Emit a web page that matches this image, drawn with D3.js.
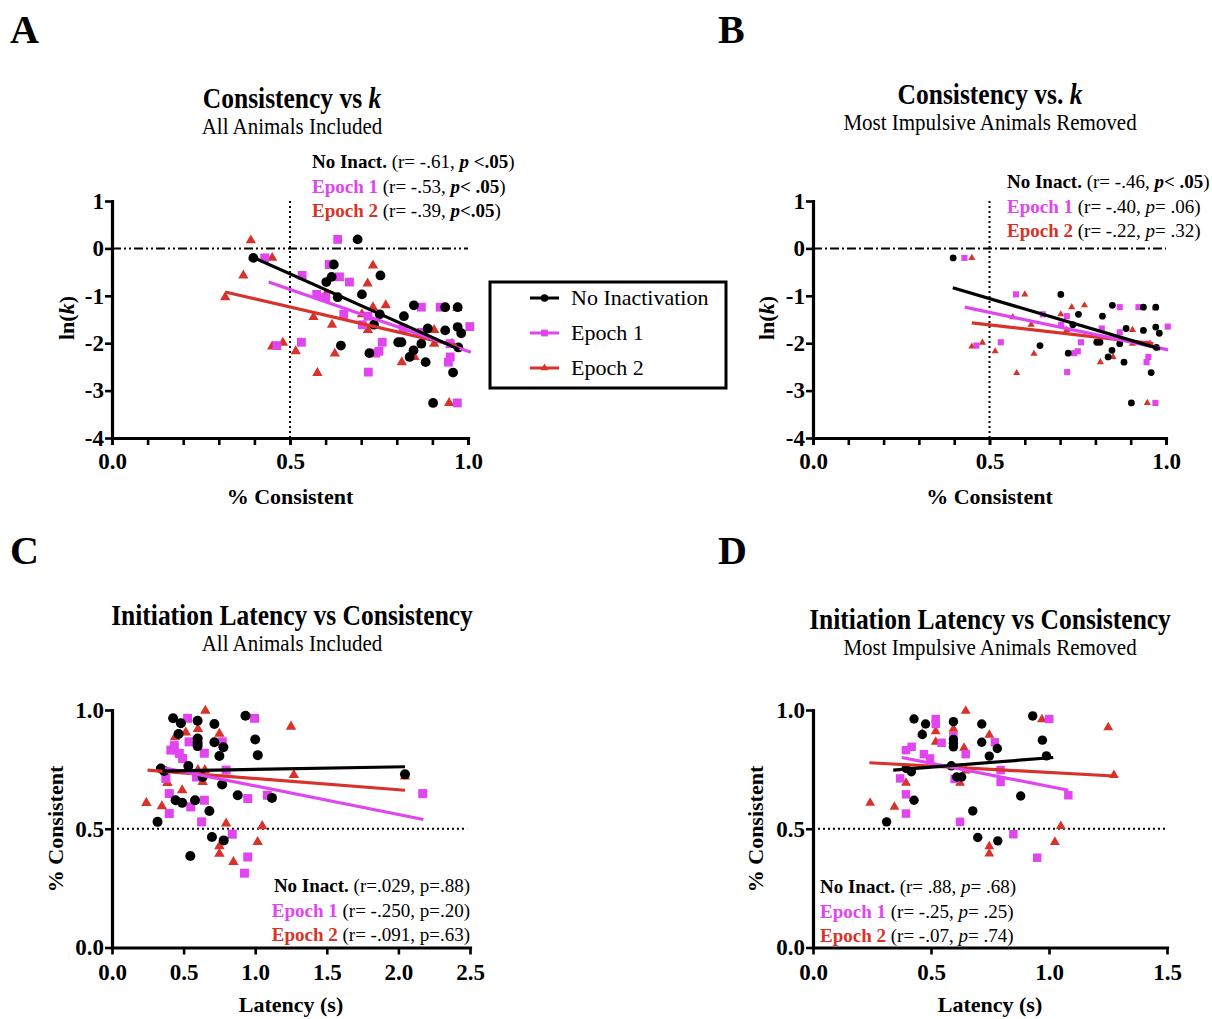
<!DOCTYPE html>
<html><head><meta charset="utf-8">
<script src="https://cdn.jsdelivr.net/npm/d3@7/dist/d3.min.js"></script>
<style>
html,body{margin:0;padding:0;background:#fff;}
svg{display:block;font-family:"Liberation Serif","Times New Roman",serif;}
</style></head>
<body>
<svg id="chart" width="1212" height="1019"></svg>
<script>
// ---------------- DATA ----------------
const seriesNames = ["No Inactivation", "Epoch 1", "Epoch 2"];
const seriesColors = ["#000000", "#e045ef", "#d7332a"];

// Panel B: % consistent vs ln(k), most impulsive animals removed
const B_none = [[0.397,-0.20],[0.702,-0.97],[0.848,-1.20],[0.936,-1.24],[0.971,-1.24],[0.752,-1.39],[0.82,-1.43],[0.736,-1.61],[0.887,-1.69],[0.936,-1.73],[0.971,-1.66],[0.981,-1.79],[0.804,-1.98],[0.813,-1.98],[0.869,-2.01],[0.973,-2.09],[0.723,-2.21],[0.643,-2.05],[0.847,-2.15],[0.836,-2.29],[0.881,-2.40],[0.958,-2.62],[0.902,-3.26]];
const B_ep1 = [[0.429,-0.20],[0.575,-0.97],[0.869,-1.24],[0.922,-1.24],[0.651,-1.39],[0.719,-1.43],[0.703,-1.61],[0.818,-1.69],[1.005,-1.65],[0.869,-1.77],[0.95,-2.01],[0.759,-1.98],[0.75,-2.17],[0.74,-2.21],[0.532,-1.98],[0.463,-2.05],[0.72,-2.61],[0.945,-2.40],[0.95,-2.29],[0.97,-3.26]];
const B_ep2 = [[0.45,-0.20],[0.60,-0.97],[0.733,-1.24],[0.769,-1.20],[0.566,-1.45],[0.702,-1.39],[0.618,-1.61],[0.719,-1.72],[0.905,-1.72],[0.905,-2.01],[0.626,-2.22],[0.516,-2.17],[0.48,-1.99],[0.45,-2.07],[0.577,-2.63],[0.85,-2.29],[0.814,-2.40],[0.947,-3.26],[0.97,-1.26],[0.955,-2.01]];
// Extra animals present only in panel A (all animals included)
const A_none_extra = [[0.69,0.19],[0.623,-0.34],[0.617,-0.60],[0.602,-0.71],[0.754,-0.57],[0.634,-1.03]];
const A_ep1_extra = [[0.634,0.19],[0.61,-0.34],[0.639,-0.60],[0.667,-0.71],[0.534,-0.57],[0.60,-1.03]];
const A_ep2_extra = [[0.39,0.17],[0.369,-0.57],[0.733,-0.36],[0.718,-0.74],[0.318,-1.03]];

// Panel C: latency vs % consistent, all animals
const C_none = [[0.427,0.965],[0.481,0.944],[0.598,0.955],[0.715,0.941],[0.932,0.976],[0.465,0.899],[0.598,0.88],[0.598,0.862],[0.598,0.848],[0.715,0.864],[0.778,0.843],[0.75,0.806],[1.0,0.876],[1.018,0.81],[0.533,0.764],[0.341,0.754],[0.364,0.743],[0.633,0.718],[0.769,0.686],[2.046,0.729],[0.444,0.62],[0.49,0.609],[0.58,0.62],[0.878,0.641],[1.117,0.63],[0.68,0.575],[0.318,0.529],[0.698,0.465],[0.78,0.451],[0.547,0.385]];
const C_ep1 = [[0.528,0.965],[0.995,0.965],[0.538,0.866],[0.77,0.866],[0.411,0.831],[0.435,0.85],[0.47,0.817],[0.493,0.796],[0.645,0.818],[0.797,0.747],[0.376,0.712],[0.59,0.718],[2.17,0.648],[0.40,0.648],[0.645,0.62],[0.55,0.592],[0.948,0.627],[1.085,0.641],[0.40,0.564],[0.626,0.529],[0.84,0.477],[0.948,0.381],[0.925,0.313],[0.598,0.873]];
const C_ep2 = [[0.652,0.997],[1.25,0.93],[0.515,0.905],[0.6,0.92],[0.75,0.9],[0.44,0.885],[0.6,0.747],[0.648,0.747],[0.633,0.697],[0.387,0.693],[1.27,0.726],[2.046,0.72],[0.49,0.662],[0.24,0.609],[0.348,0.595],[0.797,0.522],[1.049,0.511],[0.75,0.426],[0.75,0.395],[1.017,0.444],[0.848,0.36]];

// Panel D: latency vs % consistent, most impulsive removed
const D_none = [[0.428,0.962],[0.477,0.941],[0.595,0.951],[0.715,0.941],[0.931,0.975],[0.463,0.897],[0.595,0.876],[0.595,0.86],[0.595,0.845],[0.715,0.864],[0.781,0.838],[0.747,0.806],[0.972,0.873],[0.989,0.807],[0.586,0.765],[0.395,0.754],[0.417,0.74],[0.609,0.718],[0.63,0.718],[0.428,0.62],[0.88,0.638],[0.677,0.575],[0.312,0.529],[0.698,0.463],[0.783,0.449]];
const D_ep1 = [[0.52,0.962],[0.52,0.941],[1.001,0.962],[0.545,0.862],[0.771,0.864],[0.394,0.831],[0.418,0.845],[0.47,0.814],[0.496,0.796],[0.647,0.814],[0.795,0.747],[0.6,0.71],[0.795,0.697],[0.369,0.712],[0.394,0.645],[1.082,0.641],[0.394,0.564],[0.623,0.529],[0.849,0.477],[0.95,0.378],[0.595,0.89]];
const D_ep2 = [[0.647,0.996],[0.97,0.96],[1.251,0.927],[0.463,0.90],[0.52,0.91],[0.52,0.866],[0.595,0.92],[0.747,0.895],[0.64,0.84],[0.647,0.745],[0.623,0.693],[1.275,0.726],[0.394,0.693],[0.242,0.609],[0.345,0.592],[1.05,0.511],[0.747,0.426],[0.747,0.395],[1.025,0.444]];

// Regression lines (endpoints in data units): [x1,y1,x2,y2] for none, ep1, ep2
const A_fits = [[0.40,-0.20,0.975,-2.13],[0.44,-0.71,1.008,-2.19],[0.318,-0.92,0.968,-2.05]];
const B_fits = [[0.396,-0.83,0.983,-2.12],[0.43,-1.24,1.006,-2.14],[0.45,-1.57,0.964,-2.01]];
const C_fits = [[0.353,0.743,2.046,0.761],[0.37,0.756,2.175,0.539],[0.248,0.747,2.046,0.662]];
const D_fits = [[0.34,0.747,1.018,0.80],[0.376,0.80,1.082,0.662],[0.239,0.778,1.275,0.722]];

// Tick values
const kTicks = [-4,-3,-2,-1,0,1];
const consTicksX = [0,0.5,1];
const consMinor = [0,0.1,0.2,0.3,0.4,0.5,0.6,0.7,0.8,0.9,1.0];
const consTicksY = [0,0.5,1];
const latTicksC = [0,0.5,1,1.5,2,2.5];
const latTicksD = [0,0.5,1,1.5];

// Annotation texts: segments [text, style]; style: L=label, n=normal, bi=bold italic, b=bold, i=italic
const A_notes = [
  [["No Inact.","L"],[" (r= -.61, ","n"],["p","bi"],[" <.05","b"],[")","n"]],
  [["Epoch 1","L"],[" (r= -.53, ","n"],["p","bi"],["< .05","b"],[")","n"]],
  [["Epoch 2","L"],[" (r= -.39, ","n"],["p","bi"],["<.05","b"],[")","n"]]
];
const B_notes = [
  [["No Inact.","L"],[" (r= -.46, ","n"],["p","bi"],["< .05","b"],[")","n"]],
  [["Epoch 1","L"],[" (r= -.40, ","n"],["p","i"],["= .06)","n"]],
  [["Epoch 2","L"],[" (r= -.22, ","n"],["p","i"],["= .32)","n"]]
];
const C_notes = [
  [["No Inact.","L"],[" (r=.029, p=.88)","n"]],
  [["Epoch 1","L"],[" (r= -.250, p=.20)","n"]],
  [["Epoch 2","L"],[" (r= -.091, p=.63)","n"]]
];
const D_notes = [
  [["No Inact.","L"],[" (r= .88, ","n"],["p","i"],["= .68)","n"]],
  [["Epoch 1","L"],[" (r= -.25, ","n"],["p","i"],["= .25)","n"]],
  [["Epoch 2","L"],[" (r= -.07, ","n"],["p","i"],["= .74)","n"]]
];

// ---------------- DRAW ----------------
const svg = d3.select("#chart");

function marker(g, type, cx, cy, s, color) {
  if (type === 0) {
    g.append("circle").attr("cx", cx).attr("cy", cy).attr("r", s/2).attr("fill", color);
  } else if (type === 1) {
    g.append("rect").attr("x", cx - s*0.45).attr("y", cy - s*0.45).attr("width", s*0.9).attr("height", s*0.9).attr("fill", color);
  } else {
    const a = s*1.05;
    g.append("path").attr("transform", `translate(${cx},${cy})`)
      .attr("d", d3.symbol(d3.symbolTriangle, a*a*Math.sqrt(3)/4)()).attr("fill", color);
  }
}

function notes(g, lines, x, y0, dy, anchor, size) {
  lines.forEach((segs, i) => {
    const t = g.append("text").attr("x", x).attr("y", y0 + i*dy)
      .attr("text-anchor", anchor).attr("font-size", size).attr("fill", "#000");
    segs.forEach(([txt, st]) => {
      const ts = t.append("tspan").text(txt);
      if (st === "L") ts.attr("font-weight", "bold").attr("fill", seriesColors[i]);
      if (st === "b") ts.attr("font-weight", "bold");
      if (st === "bi") ts.attr("font-weight", "bold").attr("font-style", "italic");
      if (st === "i") ts.attr("font-style", "italic");
    });
  });
}

function drawPanel(p) {
  const x = d3.scaleLinear().domain(p.xDomain).range([p.left, p.right]);
  const y = d3.scaleLinear().domain(p.yDomain).range([p.bottom, p.top]);
  const g = svg.append("g");

  // reference lines
  if (p.hRef !== undefined) {
    g.append("line").attr("x1", x(p.xDomain[0])).attr("x2", x(p.hRefEnd))
      .attr("y1", y(p.hRef)).attr("y2", y(p.hRef))
      .attr("stroke", "#000").attr("stroke-width", p.hRefW).attr("stroke-dasharray", p.hRefDash);
  }
  if (p.vRef !== undefined) {
    g.append("line").attr("x1", x(p.vRef)).attr("x2", x(p.vRef))
      .attr("y1", y(p.yDomain[1])).attr("y2", y(p.yDomain[0]))
      .attr("stroke", "#000").attr("stroke-width", 2).attr("stroke-dasharray", "2,3");
  }

  // points: red, magenta, black
  [2,1,0].forEach(si => {
    p.data[si].forEach(d => marker(g, si, x(d[0]), y(d[1]), p.ms, seriesColors[si]));
  });

  // fit lines
  [2,1,0].forEach(si => {
    const f = p.fits[si];
    g.append("line").attr("x1", x(f[0])).attr("y1", y(f[1])).attr("x2", x(f[2])).attr("y2", y(f[3]))
      .attr("stroke", seriesColors[si]).attr("stroke-width", 3.2).attr("stroke-linecap", "butt");
  });

  // axes
  const yAxis = d3.axisLeft(y).tickValues(p.yTicks).tickSize(7).tickSizeOuter(0).tickPadding(1)
    .tickFormat(p.yFmt);
  g.append("g").attr("transform", `translate(${p.left},0)`).call(yAxis);
  if (p.minorX) {
    g.append("g").attr("transform", `translate(0,${p.bottom})`)
      .call(d3.axisBottom(x).tickValues(p.minorX).tickSize(7).tickSizeOuter(0).tickFormat(""))
      .call(a => a.select(".domain").remove());
  }
  const xAxis = d3.axisBottom(x).tickValues(p.xTicks).tickSize(7).tickSizeOuter(0).tickPadding(p.xPad)
    .tickFormat(d3.format(".1f"));
  g.append("g").attr("transform", `translate(0,${p.bottom})`).call(xAxis);
  g.selectAll(".domain").attr("stroke-width", 3.2).attr("stroke-linecap", "square");
  g.selectAll(".tick line").attr("stroke-width", 2.6);
  g.selectAll(".tick text").attr("font-family", "Liberation Serif, serif")
    .attr("font-size", 23).attr("font-weight", "bold").attr("fill", "#000");

  // axis titles
  g.append("text").attr("x", (p.left + p.right)/2).attr("y", p.xTitleY).attr("text-anchor", "middle")
    .attr("font-size", 22).attr("font-weight", "bold").text(p.xTitle);
  const yt = g.append("text").attr("transform", `translate(${p.yTitleX},${p.yTitleY}) rotate(-90)`)
    .attr("text-anchor", "middle").attr("font-size", 22).attr("font-weight", "bold");
  p.yTitle.forEach(([txt, it]) => { const s = yt.append("tspan").text(txt); if (it) s.attr("font-style", "italic"); });

  // titles (slightly taller glyphs as in the reference)
  const tt = g.append("text").attr("transform", `translate(${p.titleX},${p.titleY}) scale(1,1.13)`)
    .attr("text-anchor", "middle").attr("font-size", 25.5).attr("font-weight", "bold");
  p.title.forEach(([txt, it]) => { const s = tt.append("tspan").text(txt); if (it) s.attr("font-style", "italic"); });
  g.append("text").attr("transform", `translate(${p.titleX},${p.titleY + 26}) scale(1,1.1)`)
    .attr("text-anchor", "middle").attr("font-size", 21).text(p.subtitle);

  // panel letter
  g.append("text").attr("x", p.letterX).attr("y", p.letterY).attr("font-size", 40)
    .attr("font-weight", "bold").text(p.letter);

  // annotations
  notes(g, p.notes, p.noteX, p.noteY, 24.5, p.noteAnchor, 19);
}

const kFmt = d => String(d);
const cFmt = d3.format(".1f");

drawPanel({
  letter: "A", letterX: 10, letterY: 43,
  xDomain: [0,1], yDomain: [-4,1], left: 112, right: 468, bottom: 438, top: 201,
  data: [B_none.concat(A_none_extra), B_ep1.concat(A_ep1_extra), B_ep2.concat(A_ep2_extra)],
  fits: A_fits, ms: 9.8,
  hRef: 0, hRefEnd: 1.0, hRefW: 2, hRefDash: "9,3,2,3,2,3",
  vRef: 0.5,
  yTicks: kTicks, yFmt: kFmt, xTicks: consTicksX, minorX: consMinor, xPad: 8,
  xTitle: "% Consistent", xTitleY: 504, yTitle: [["ln(",false],["k",true],[")",false]], yTitleX: 74, yTitleY: 318,
  title: [["Consistency vs ",false],["k",true]], subtitle: "All Animals Included", titleX: 292, titleY: 108,
  notes: A_notes, noteX: 312, noteY: 168, noteAnchor: "start"
});

drawPanel({
  letter: "B", letterX: 718, letterY: 43,
  xDomain: [0,1], yDomain: [-4,1], left: 813, right: 1166, bottom: 438, top: 201,
  data: [B_none, B_ep1, B_ep2],
  fits: B_fits, ms: 6.8,
  hRef: 0, hRefEnd: 1.0, hRefW: 2, hRefDash: "9,3,2,3",
  vRef: 0.5,
  yTicks: kTicks, yFmt: kFmt, xTicks: consTicksX, minorX: consMinor, xPad: 8,
  xTitle: "% Consistent", xTitleY: 504, yTitle: [["ln(",false],["k",true],[")",false]], yTitleX: 774, yTitleY: 318,
  title: [["Consistency vs. ",false],["k",true]], subtitle: "Most Impulsive Animals Removed", titleX: 990, titleY: 104,
  notes: B_notes, noteX: 1007, noteY: 188, noteAnchor: "start"
});

drawPanel({
  letter: "C", letterX: 10, letterY: 564,
  xDomain: [0,2.5], yDomain: [0,1], left: 112, right: 470, bottom: 947.5, top: 710,
  data: [C_none, C_ep1, C_ep2],
  fits: C_fits, ms: 10,
  hRef: 0.5, hRefEnd: 2.48, hRefW: 2, hRefDash: "2,3",
  yTicks: consTicksY, yFmt: cFmt, xTicks: latTicksC, xPad: 9,
  xTitle: "Latency (s)", xTitleY: 1012, yTitle: [["% Consistent",false]], yTitleX: 63, yTitleY: 829,
  title: [["Initiation Latency vs Consistency",false]], subtitle: "All Animals Included", titleX: 292, titleY: 625,
  notes: C_notes, noteX: 470, noteY: 892, noteAnchor: "end"
});

drawPanel({
  letter: "D", letterX: 718, letterY: 564,
  xDomain: [0,1.5], yDomain: [0,1], left: 813, right: 1167, bottom: 947.5, top: 710,
  data: [D_none, D_ep1, D_ep2],
  fits: D_fits, ms: 9.4,
  hRef: 0.5, hRefEnd: 1.5, hRefW: 2, hRefDash: "2,3",
  yTicks: consTicksY, yFmt: cFmt, xTicks: latTicksD, xPad: 9,
  xTitle: "Latency (s)", xTitleY: 1012, yTitle: [["% Consistent",false]], yTitleX: 763, yTitleY: 829,
  title: [["Initiation Latency vs Consistency",false]], subtitle: "Most Impulsive Animals Removed", titleX: 990, titleY: 629,
  notes: D_notes, noteX: 820, noteY: 893, noteAnchor: "start"
});

// legend
const lg = svg.append("g");
lg.append("rect").attr("x", 490).attr("y", 282).attr("width", 236).attr("height", 106)
  .attr("fill", "none").attr("stroke", "#000").attr("stroke-width", 3);
seriesNames.forEach((name, i) => {
  const cy = 298 + i*35;
  lg.append("line").attr("x1", 530).attr("x2", 559).attr("y1", cy).attr("y2", cy)
    .attr("stroke", seriesColors[i]).attr("stroke-width", 3);
  marker(lg, i, 544.5, cy, 7.5, seriesColors[i]);
  lg.append("text").attr("x", 571).attr("y", cy + 7).attr("font-size", 22).text(name);
});
</script>
</body></html>
